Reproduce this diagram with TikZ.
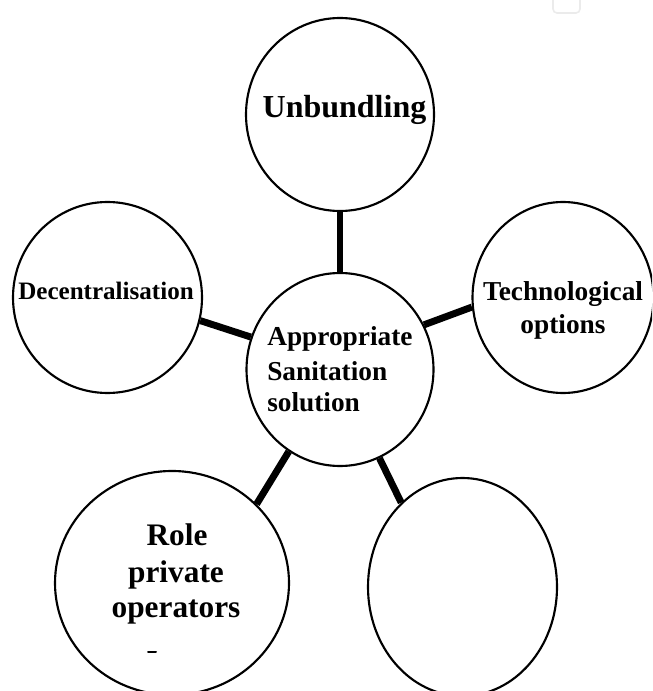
\documentclass[tikz,border=0pt]{standalone}
\usepackage{fontspec}
\setmainfont{Liberation Serif}
\usetikzlibrary{shapes.geometric}
\tikzset{
  bubble/.style={ellipse, draw, line width=1.6pt, inner sep=0pt},
  link/.style={line width=5.2pt},
  lbl/.style={inner sep=0pt, anchor=base, font=\bfseries\fontsize{#1}{#1}\selectfont},
  lbll/.style={inner sep=0pt, anchor=base west, font=\bfseries\fontsize{#1}{#1}\selectfont}
}
\begin{document}
\begin{tikzpicture}[x=0.75pt,y=-0.75pt]
\useasboundingbox (0,0) rectangle (652,691);
\clip (0,0) rectangle (652,691);
% faint box at top right
\draw[black!8, line width=1.2pt, rounded corners=3pt] (553,-10) rectangle (580,13);
% bubbles
\node[bubble, minimum width=141pt, minimum height=144.75pt] (U) at (340,114.5) {};
\node[bubble, minimum width=140.25pt, minimum height=144.75pt] (C) at (340,369.5) {};
\node[bubble, minimum width=141.75pt, minimum height=143.25pt] (D) at (107.5,297.5) {};
\node[bubble, minimum width=135.75pt, minimum height=143.25pt] (T) at (563,297.5) {};
\node[bubble, minimum width=175.5pt, minimum height=168pt] (BL) at (172,583) {};
\node[bubble, minimum width=141.75pt, minimum height=163.5pt] (BR) at (462.5,587) {};
% connectors
\draw[link] (C.90) -- (U.270);
\draw[link] (C.160) -- (D.346);
\draw[link] (C.28) -- (T.186);
\draw[link] (C.238) -- (BL.43);
\draw[link] (C.294) -- (BR.126);
% labels
\node[lbl=24] (tU) at (344.5,118) {Unbundling};
\node[lbl=18.8] (tD) at (106,299) {Decentralisation};
\node[lbl=20.5] (tT1) at (563,300) {Technological};
\node[lbl=20.5] (tT2) at (563,333) {options};
\node[lbll=20.5] (tC1) at (267,345) {Appropriate};
\node[lbll=20.5] (tC2) at (267,380) {Sanitation};
\node[lbll=20.5] (tC3) at (267,411) {solution};
\node[lbl=23.5] (tB1) at (177,545) {Role};
\node[lbl=23.5] (tB2) at (176,582) {private};
\node[lbl=23.5] (tB3) at (176,617) {operators};
\draw[line width=1.5pt, line cap=round] (148,652) -- (156,652);
\end{tikzpicture}
\end{document}
